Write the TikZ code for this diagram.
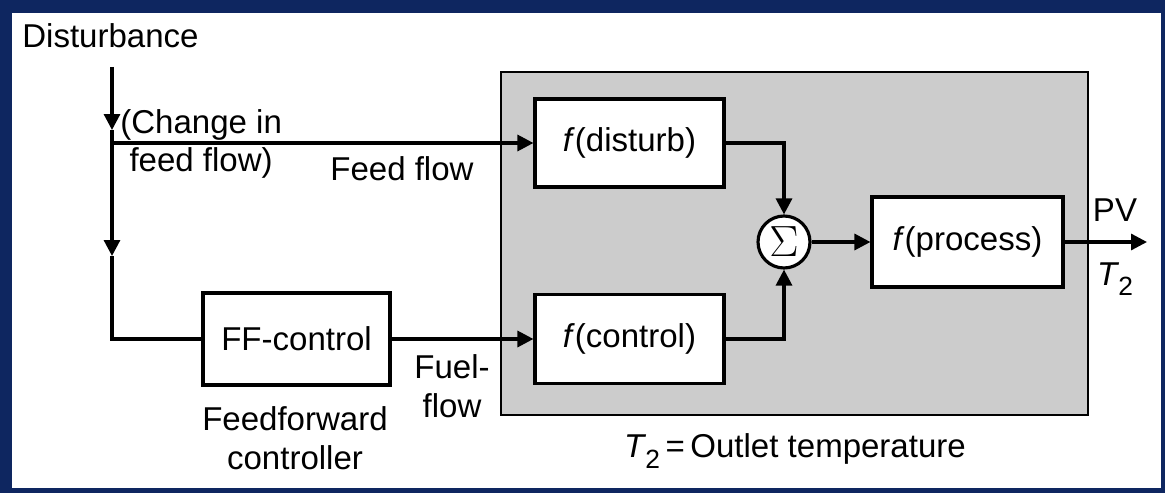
\documentclass[tikz,border=0pt]{standalone}
\usepackage{fontspec}
\setmainfont{Liberation Sans}
\usetikzlibrary{arrows.meta,positioning}
\definecolor{framenavy}{RGB}{14,38,96}
\definecolor{procgray}{RGB}{204,204,204}
\newcommand{\Ttwo}{\textit{T}\kern-0.5pt\raisebox{-0.32em}{\fontsize{15}{15}\selectfont 2}}

\begin{document}
\begin{tikzpicture}[x=0.02cm, y=-0.02cm,
    blockbox/.style={rectangle, draw, line width=1.8pt, fill=white, inner sep=0pt,
      font=\fontsize{18.8}{22}\selectfont},
    flow/.style={line width=1.8pt, -{Triangle[length=0.32cm, width=0.32cm]}},
    wire/.style={line width=1.8pt},
    lbl/.style={font=\fontsize{18.8}{22}\selectfont, inner sep=0pt}
  ]
    % Frame
    \useasboundingbox (0,0) rectangle (1165,493);
    \fill[framenavy] (0,0) rectangle (1165,493);
    \fill[white] (12,13) rectangle (1161,488);

    % Process (shaded region)
    \draw[line width=1.4pt, fill=procgray] (501,72) rectangle (1088,415);

    % Blocks
    \node[blockbox, minimum width=3.78cm, minimum height=1.76cm] (fdist) at (629.5,143) {\textit{f}(disturb)};
    \node[blockbox, minimum width=3.78cm, minimum height=1.78cm] (fctrl) at (629.5,339) {\textit{f}(control)};
    \node[blockbox, minimum width=3.82cm, minimum height=1.80cm] (fproc) at (967.5,242) {\textit{f}(process)};
    \node[blockbox, minimum width=3.74cm, minimum height=1.84cm] (ffctrl) at (296.5,339) {FF-control};
    \node[circle, draw, line width=1.8pt, fill=white, minimum size=1.04cm, inner sep=0pt,
      font=\fontsize{24}{26}\selectfont] (sum) at (784,242) {$\Sigma$};

    % Labels
    \node[lbl, anchor=base west, align=left] (chg) at (120,172) {(Change in\\\ feed flow)};
    \node[lbl, anchor=base west] (dist) at (22,48) {Disturbance};
    \node[lbl, anchor=base west] (feed) at (330,180) {Feed flow};
    \node[lbl, align=center] (fuel) at (452,386) {Fuel-\\flow};
    \node[lbl, align=center] (ffname) at (295,438) {Feedforward\\controller};
    \node[lbl] (outlet) at (795,451) {\Ttwo\,=\,Outlet temperature};
    \node[lbl] (pv) at (1115,210) {PV};
    \node[lbl] (ttwo) at (1115,279) {\Ttwo};

    % Disturbance path
    \coordinate (top) at (112,67);
    \coordinate (a1) at (112,130);
    \coordinate (br) at (112,143);
    \coordinate (a2) at (112,256);
    \coordinate (out) at (1147,242);
    \draw[flow] (top) -- (a1);
    \draw[wire] (a1) -- (br);
    \draw[flow] (br) -- (a2);
    \draw[wire] (a2) |- (ffctrl.west);
    \draw[flow] (br) -- (fdist.west);

    % Signal flow
    \draw[flow] (ffctrl.east) -- (fctrl.west);
    \draw[flow] (fdist.east) -| (sum.north);
    \draw[flow] (fctrl.east) -| (sum.south);
    \draw[flow] (sum.east) -- (fproc.west);
    \draw[flow] (fproc.east) -- (out);
\end{tikzpicture}
\end{document}
